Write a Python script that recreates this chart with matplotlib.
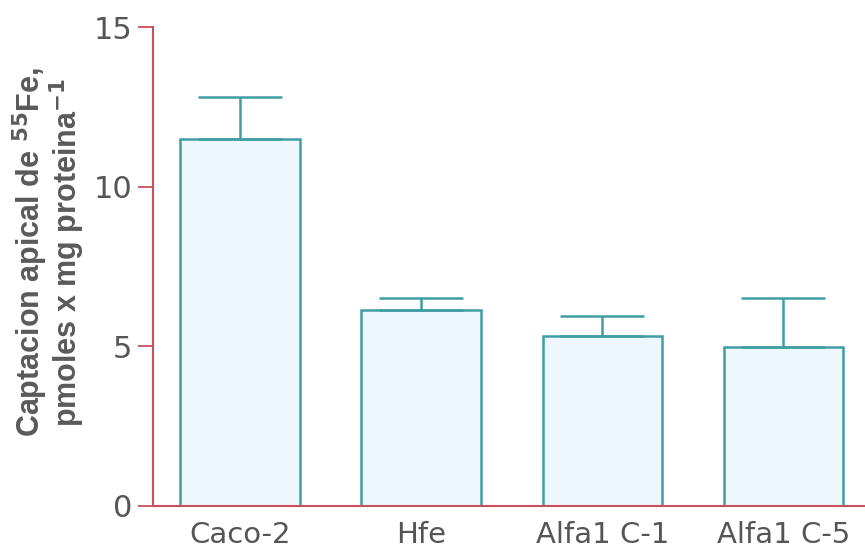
import numpy as np
import matplotlib.pyplot as plt

# cell lines and apical 55Fe uptake (mean, upper SEM bar)
lineas = ['Caco-2', 'Hfe', 'Alfa1 C-1', 'Alfa1 C-5']
captacion = [11.5, 6.15, 5.33, 4.98]
error = [1.3, 0.37, 0.62, 1.52]

plt.rcParams['font.family'] = ['DejaVu Sans']
plt.rcParams['mathtext.default'] = 'bf'

rojo = '#c8505c'
azul = '#3f9ea5'
gris = '#555555'

fig = plt.figure(figsize=(8.65, 5.53), dpi=100)
ax = fig.add_axes([0.177, 0.085, 0.823, 0.866])

x = np.arange(len(lineas))
ax.bar(x, captacion, width=0.66, color='#ecf8fb', edgecolor=azul, linewidth=1.8, zorder=2)
ax.errorbar(x, captacion, yerr=[np.zeros(len(error)), error], fmt='none',
            ecolor=azul, elinewidth=1.8, capsize=30, capthick=1.8, zorder=3)

ax.set_xlim(-0.48, 3.45)
ax.set_ylim(0, 15)
ax.set_yticks([0, 5, 10, 15])
ax.set_xticks(x)
ax.set_xticklabels(lineas, fontsize=21, color=gris)
ax.tick_params(axis='x', length=0, pad=11)
ax.tick_params(axis='y', length=11, width=1.3, color=rojo, labelsize=22, labelcolor=gris, pad=4)

for s in ['top', 'right']:
    ax.spines[s].set_visible(False)
for s in ['left', 'bottom']:
    ax.spines[s].set_color(rojo)
    ax.spines[s].set_linewidth(1.5)

ax.set_ylabel('Captacion apical de $^{55}$Fe,\npmoles x mg proteina$^{-1}$',
              family='Liberation Sans', fontsize=22, fontweight='bold', color='#5a5a5a',
              linespacing=0.9)
ax.yaxis.set_label_coords(-0.093, 0.53)

fig.savefig('out.png', dpi=100)
